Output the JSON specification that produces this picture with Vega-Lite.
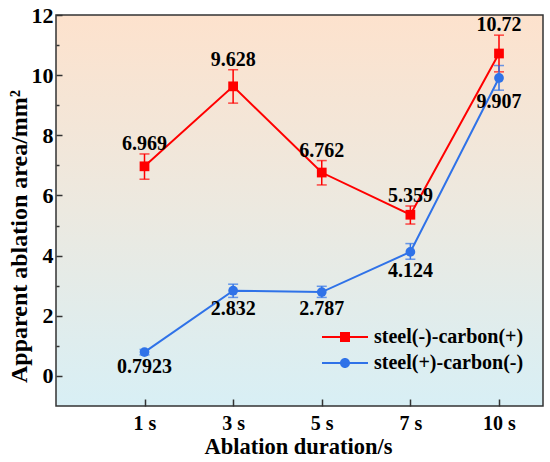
{
  "$schema": "https://vega.github.io/schema/vega-lite/v6.json",
  "width": 487,
  "height": 391,
  "autosize": "none",
  "padding": {"left": 56, "top": 15, "right": 7, "bottom": 56},
  "background": "white",
  "data": {
    "values": [
      {"duration": "1 s", "series": "steel(-)-carbon(+)", "area": 6.969, "lo": 6.54, "hi": 7.38},
      {"duration": "3 s", "series": "steel(-)-carbon(+)", "area": 9.628, "lo": 9.07, "hi": 10.18},
      {"duration": "5 s", "series": "steel(-)-carbon(+)", "area": 6.762, "lo": 6.35, "hi": 7.16},
      {"duration": "7 s", "series": "steel(-)-carbon(+)", "area": 5.359, "lo": 5.05, "hi": 5.65},
      {"duration": "10 s", "series": "steel(-)-carbon(+)", "area": 10.72, "lo": 10.11, "hi": 11.33},
      {"duration": "1 s", "series": "steel(+)-carbon(-)", "area": 0.7923, "lo": 0.7, "hi": 0.88},
      {"duration": "3 s", "series": "steel(+)-carbon(-)", "area": 2.832, "lo": 2.61, "hi": 3.05},
      {"duration": "5 s", "series": "steel(+)-carbon(-)", "area": 2.787, "lo": 2.61, "hi": 2.98},
      {"duration": "7 s", "series": "steel(+)-carbon(-)", "area": 4.124, "lo": 3.88, "hi": 4.4},
      {"duration": "10 s", "series": "steel(+)-carbon(-)", "area": 9.907, "lo": 9.5, "hi": 10.32}
    ]
  },
  "encoding": {
    "x": {
      "field": "duration",
      "type": "ordinal",
      "sort": ["1 s", "3 s", "5 s", "7 s", "10 s"],
      "scale": {"type": "point", "range": [88.5, 443], "padding": 0},
      "axis": {
        "title": "Ablation duration/s",
        "titleX": 242,
        "labelAngle": 0,
        "labelFontSize": 20,
        "offset": -7,
        "tickSize": 7,
        "labelPadding": 7,
        "titleFontSize": 22.5,
        "titlePadding": 2
      }
    },
    "color": {
      "field": "series",
      "type": "nominal",
      "sort": ["steel(-)-carbon(+)", "steel(+)-carbon(-)"],
      "scale": {"range": ["#ff0000", "#2f72e8"]},
      "legend": {
        "orient": "none",
        "legendX": 279,
        "legendY": 312,
        "title": null,
        "symbolSize": 400,
        "symbolStrokeWidth": 0,
        "symbolOpacity": 1,
        "labelFont": "Liberation Serif",
        "labelFontWeight": "bold",
        "labelFontSize": 20,
        "labelColor": "black",
        "labelOffset": 19,
        "rowPadding": 6,
        "encode": {
          "symbols": {
            "update": {
              "shape": {"signal": "datum.value === 'steel(-)-carbon(+)' ? 'M-2.3,-0.1H2.3V0.1H-2.3Z M-0.5,-0.5H0.5V0.5H-0.5Z' : 'M-2.3,-0.1H2.3V0.1H-2.3Z M0.5,0A0.5,0.5 0 1,1 -0.5,0A0.5,0.5 0 1,1 0.5,0Z'"},
              "fill": {"scale": "color", "field": "value"},
              "strokeWidth": {"value": 0}
            }
          }
        }
      }
    }
  },
  "layer": [
    {
      "mark": {"type": "line", "strokeWidth": 2},
      "encoding": {
        "y": {
          "field": "area",
          "type": "quantitative",
          "scale": {"domain": [-1, 12], "nice": false, "zero": false},
          "axis": {
            "title": "Apparent ablation area/mm²",
            "titleY": 221,
            "values": [0, 2, 4, 6, 8, 10, 12],
            "offset": -6,
            "tickSize": 6,
            "labelFontSize": 22,
            "labelPadding": 3,
            "titleFontSize": 24,
            "titlePadding": 0
          }
        }
      }
    },
    {
      "mark": {"type": "rule", "strokeWidth": 0},
      "encoding": {
        "y": {
          "field": "area",
          "type": "quantitative",
          "axis": {
            "orient": "left",
            "values": [1, 3, 5, 7, 9, 11],
            "offset": -3,
            "tickSize": 3,
            "labels": false,
            "title": null,
            "domain": false
          }
        }
      }
    },
    {
      "mark": {"type": "errorbar", "ticks": true, "thickness": 1.5},
      "encoding": {
        "y": {"field": "lo", "type": "quantitative", "axis": null},
        "y2": {"field": "hi"}
      }
    },
    {
      "mark": {"type": "point", "filled": true, "opacity": 1, "size": 95},
      "encoding": {
        "y": {"field": "area", "type": "quantitative", "axis": null},
        "shape": {
          "field": "series",
          "type": "nominal",
          "sort": ["steel(-)-carbon(+)", "steel(+)-carbon(-)"],
          "scale": {"range": ["square", "circle"]},
          "legend": null
        }
      }
    },
    {
      "transform": [{"filter": "datum.series === 'steel(-)-carbon(+)'"}],
      "mark": {"type": "text", "font": "Liberation Serif", "fontWeight": "bold", "fontSize": 20, "baseline": "middle", "dy": -10},
      "encoding": {
        "y": {"field": "hi", "type": "quantitative", "axis": null},
        "text": {"field": "area"},
        "color": {"value": "black"}
      }
    },
    {
      "transform": [{"filter": "datum.series === 'steel(+)-carbon(-)'"}],
      "mark": {"type": "text", "font": "Liberation Serif", "fontWeight": "bold", "fontSize": 20, "baseline": "middle", "dy": 12},
      "encoding": {
        "y": {"field": "lo", "type": "quantitative", "axis": null},
        "text": {"field": "area"},
        "color": {"value": "black"}
      }
    }
  ],
  "resolve": {"axis": {"y": "independent"}},
  "config": {
    "font": "Liberation Serif",
    "view": {
      "stroke": "#333333",
      "strokeWidth": 1.5,
      "fill": {
        "gradient": "linear",
        "x1": 0, "y1": 0, "x2": 0, "y2": 1,
        "stops": [
          {"offset": 0, "color": "#fde2cd"},
          {"offset": 0.5, "color": "#ece9e0"},
          {"offset": 1, "color": "#d8eff5"}
        ]
      }
    },
    "errorbar": {"ticks": {"size": 10}},
    "axis": {
      "grid": false,
      "domain": false,
      "labelFont": "Liberation Serif",
      "labelFontWeight": "bold",
      "labelColor": "black",
      "titleFont": "Liberation Serif",
      "titleFontWeight": "bold",
      "titleColor": "black",
      "tickColor": "#333333",
      "tickWidth": 1.5
    }
  }
}
